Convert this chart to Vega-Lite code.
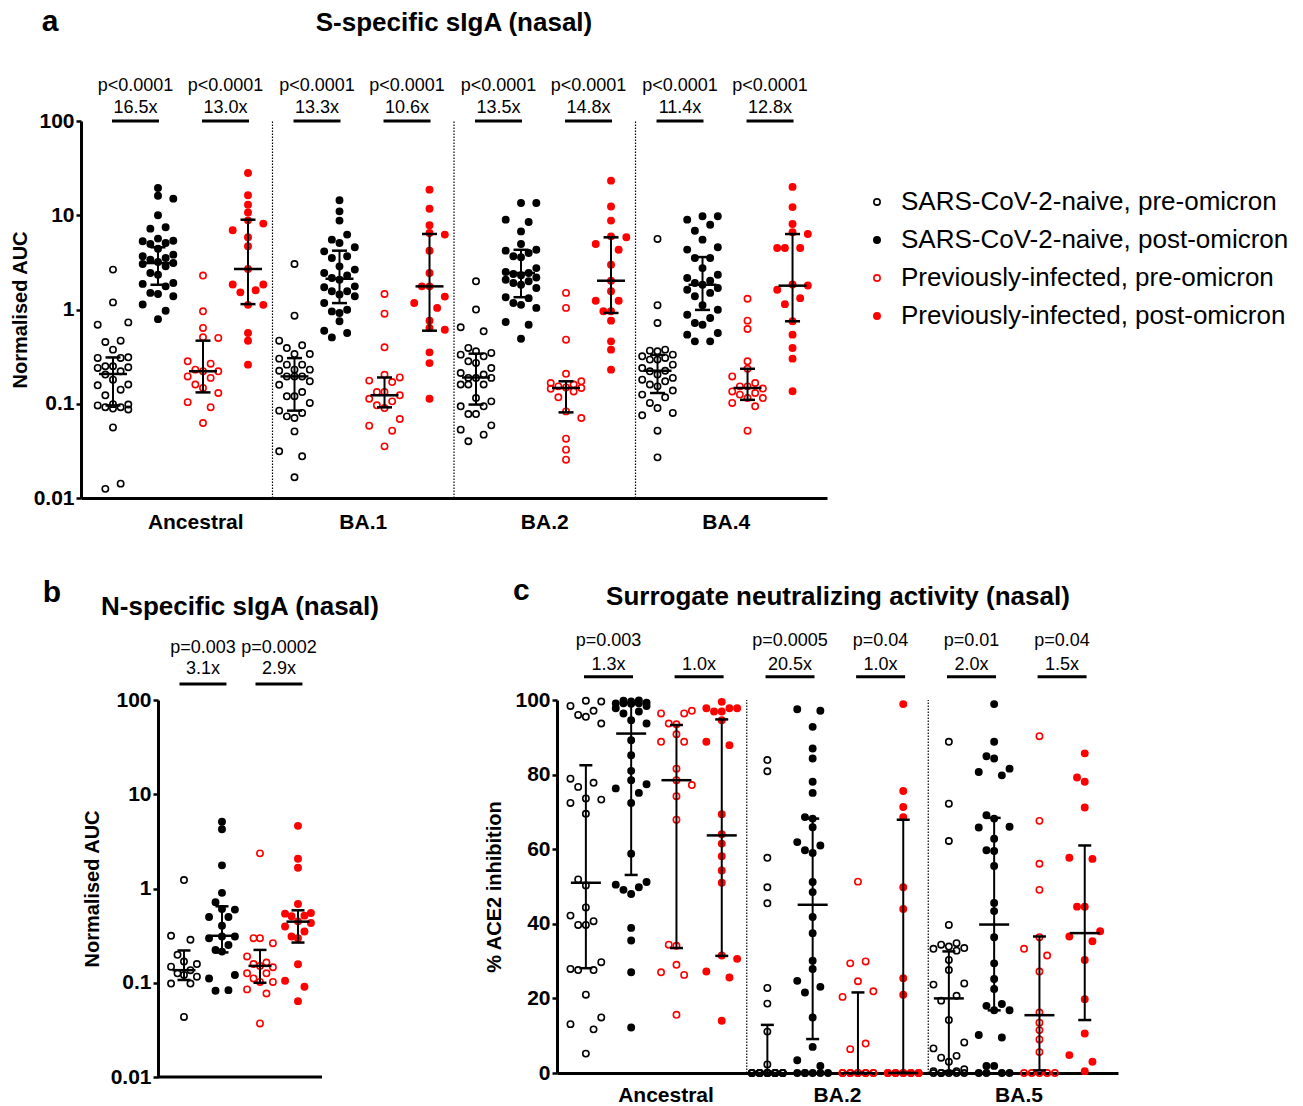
{
"$schema": "https://vega.github.io/schema/vega-lite/v6.json",
"padding": {"left": 10, "top": 6, "right": 0, "bottom": 0},
"config": {
  "font": "Liberation Sans",
  "view": {"stroke": null},
  "axis": {"grid": false, "domainColor": "#000", "domainWidth": 3, "tickColor": "#000", "tickWidth": 2.5, "tickSize": 5, "labelColor": "#000", "titleColor": "#000", "labelFont": "Liberation Sans", "titleFont": "Liberation Sans", "labelFontWeight": "bold", "titleFontWeight": "bold", "labelFontSize": 21, "titleFontSize": 20},
  "text": {"font": "Liberation Sans", "color": "#000"}
},
"datasets": {
"pts": [
{"panel":"a","v":"Ancestral","s":"SARS-CoV-2-naive, pre-omicron","vals":[2.65,1.19,0.73,0.69,0.467,0.452,0.375,0.311,0.306,0.306,0.25,0.25,0.244,0.24,0.221,0.204,0.18,0.16,0.157,0.141,0.123,0.099,0.098,0.096,0.092,0.092,0.089,0.087,0.056,0.0142,0.0125]},
{"panel":"a","v":"Ancestral","s":"SARS-CoV-2-naive, post-omicron","vals":[19.5,16.1,15.0,9.98,7.45,7.21,5.65,5.37,5.29,5.08,4.96,4.42,3.82,3.67,3.52,3.38,3.19,3.11,3.04,2.87,2.44,2.34,1.91,1.87,1.76,1.5,1.46,1.38,1.13,0.97,0.79]},
{"panel":"a","v":"Ancestral","s":"Previously-infected, pre-omicron","vals":[2.29,0.957,0.637,0.507,0.499,0.282,0.266,0.23,0.221,0.221,0.195,0.188,0.16,0.147,0.13,0.104,0.092,0.0625]},
{"panel":"a","v":"Ancestral","s":"Previously-infected, post-omicron","vals":[28.1,16.3,12.9,10.7,8.83,8.15,6.92,5.83,4.68,2.69,1.84,1.84,1.6,1.52,1.12,1.12,0.564,0.467,0.26]},
{"panel":"a","v":"BA.1","s":"SARS-CoV-2-naive, pre-omicron","vals":[3.04,0.86,0.467,0.417,0.39,0.337,0.337,0.301,0.26,0.26,0.23,0.23,0.224,0.195,0.195,0.195,0.173,0.159,0.133,0.12,0.12,0.102,0.0845,0.0798,0.0735,0.0706,0.0509,0.0313,0.0277,0.0166]},
{"panel":"a","v":"BA.1","s":"SARS-CoV-2-naive, post-omicron","vals":[14.4,11.0,8.77,6.23,5.51,5.08,4.57,4.14,3.67,3.52,2.87,2.65,2.44,2.3,2.16,2.07,1.76,1.72,1.56,1.56,1.44,1.38,1.17,0.995,0.955,0.918,0.749,0.596,0.563,0.506]},
{"panel":"a","v":"BA.1","s":"Previously-infected, pre-omicron","vals":[1.46,0.903,0.397,0.203,0.19,0.176,0.17,0.133,0.133,0.123,0.113,0.106,0.0962,0.0901,0.0689,0.0585,0.0518,0.0353]},
{"panel":"a","v":"BA.1","s":"Previously-infected, post-omicron","vals":[18.7,11.7,7.82,6.49,6.23,4.21,2.44,1.76,1.76,1.37,1.17,1.04,0.76,0.636,0.611,0.351,0.27,0.113]},
{"panel":"a","v":"BA.2","s":"SARS-CoV-2-naive, pre-omicron","vals":[1.99,0.998,0.648,0.587,0.391,0.36,0.346,0.332,0.319,0.282,0.271,0.239,0.212,0.204,0.188,0.188,0.188,0.16,0.16,0.16,0.115,0.106,0.094,0.094,0.0778,0.0778,0.059,0.0531,0.047,0.04]},
{"panel":"a","v":"BA.2","s":"SARS-CoV-2-naive, post-omicron","vals":[13.5,13.5,8.98,8.48,6.74,4.95,4.31,4.21,3.98,3.67,3.58,2.75,2.5,2.44,2.38,2.31,2.19,2.07,1.99,1.91,1.83,1.69,1.35,1.32,1.17,1.12,1.04,0.737,0.69,0.49]},
{"panel":"a","v":"BA.2","s":"Previously-infected, pre-omicron","vals":[1.5,1.04,0.478,0.208,0.173,0.166,0.16,0.153,0.149,0.147,0.144,0.135,0.117,0.083,0.0706,0.0426,0.0326,0.0255]},
{"panel":"a","v":"BA.2","s":"Previously-infected, post-omicron","vals":[23.3,12.4,8.77,5.97,5.83,4.95,4.31,2.99,2.02,1.56,1.24,1.24,0.957,0.957,0.762,0.459,0.375,0.23]},
{"panel":"a","v":"BA.4","s":"SARS-CoV-2-naive, pre-omicron","vals":[5.6,1.11,0.719,0.375,0.366,0.36,0.332,0.319,0.306,0.294,0.294,0.26,0.239,0.224,0.221,0.204,0.188,0.18,0.173,0.16,0.153,0.138,0.125,0.117,0.102,0.09,0.0798,0.0754,0.0518,0.027]},
{"panel":"a","v":"BA.4","s":"SARS-CoV-2-naive, post-omicron","vals":[9.75,9.75,8.98,7.94,6.86,5.51,4.57,4.32,3.52,3.52,2.75,2.34,2.16,2.02,1.91,1.83,1.69,1.62,1.5,1.38,1.11,0.995,0.88,0.812,0.719,0.69,0.563,0.541,0.459,0.459]},
{"panel":"a","v":"BA.4","s":"Previously-infected, pre-omicron","vals":[1.3,0.762,0.621,0.282,0.235,0.195,0.166,0.153,0.153,0.145,0.135,0.13,0.125,0.115,0.115,0.102,0.094,0.0518]},
{"panel":"a","v":"BA.4","s":"Previously-infected, post-omicron","vals":[20.0,12.2,8.08,6.59,6.33,4.49,4.49,4.49,1.84,1.8,1.62,1.32,1.14,0.75,0.541,0.39,0.301,0.136]},
{"panel":"b","v":"N","s":"SARS-CoV-2-naive, pre-omicron","vals":[1.23,0.315,0.286,0.198,0.168,0.158,0.148,0.136,0.126,0.121,0.116,0.098,0.098,0.0434]},
{"panel":"b","v":"N","s":"SARS-CoV-2-naive, post-omicron","vals":[5.11,4.26,1.76,0.899,0.715,0.607,0.597,0.498,0.498,0.403,0.31,0.31,0.297,0.252,0.223,0.214,0.121,0.111,0.0835,0.0822]},
{"panel":"b","v":"N","s":"Previously-infected, pre-omicron","vals":[2.36,0.297,0.297,0.263,0.19,0.164,0.158,0.151,0.146,0.126,0.126,0.111,0.102,0.102,0.085,0.0769,0.037]},
{"panel":"b","v":"N","s":"Previously-infected, post-omicron","vals":[4.62,2.07,1.66,0.686,0.549,0.541,0.515,0.507,0.448,0.43,0.396,0.35,0.31,0.297,0.157,0.105,0.0906,0.0638]},
{"panel":"c","v":"Ancestral","s":"SARS-CoV-2-naive, pre-omicron","vals":[99.8,99.6,98.4,97.1,96.0,95.5,93.7,78.9,77.8,76.7,73.6,73.3,72.4,69.5,51.9,50.3,44.4,42.2,40.7,39.7,39.7,29.7,27.9,27.6,27.6,21.0,14.9,13.1,11.7,5.2]},
{"panel":"c","v":"Ancestral","s":"SARS-CoV-2-naive, post-omicron","vals":[99.8,99.6,99.9,99.0,99.3,99.1,99.1,99.1,98.4,97.8,96.9,96.4,94.6,93.7,89.2,85.2,81.0,78.5,77.4,76.3,75.1,72.4,58.8,51.2,50.5,49.8,49.1,48.0,38.9,35.5,27.0,12.2]},
{"panel":"c","v":"Ancestral","s":"Previously-infected, pre-omicron","vals":[97.1,96.4,96.4,93.7,93.5,90.8,88.8,88.8,81.6,78.5,77.2,74.2,67.9,34.4,34.1,29.0,27.0,26.3,15.6]},
{"panel":"c","v":"Ancestral","s":"Previously-infected, post-omicron","vals":[99.5,97.8,97.8,97.8,96.9,96.9,94.6,88.8,87.9,69.4,64.0,61.5,58.1,54.3,51.0,31.5,30.6,27.2,25.6,14.0]},
{"panel":"c","v":"BA.2","s":"SARS-CoV-2-naive, pre-omicron","vals":[83.9,80.9,57.7,49.8,45.5,22.8,18.6,11.1,2.3,0,0,0,0,0,0,0,0,0,0,0,0,0,0,0,0,0,0,0,0,0,0]},
{"panel":"c","v":"BA.2","s":"SARS-CoV-2-naive, post-omicron","vals":[97.5,97.1,92.8,87.0,84.3,78.1,75.1,68.6,68.2,65.9,61.9,61.0,59.7,59.0,51.2,48.5,41.8,37.5,30.1,27.9,24.7,23.1,21.6,14.9,7.0,3.4,1.9,0,0,0,0,0,0]},
{"panel":"c","v":"BA.2","s":"Previously-infected, pre-omicron","vals":[51.3,29.9,29.4,24.6,21.9,20.4,7.9,6.4,0,0,0,0,0,0,0,0,0,0]},
{"panel":"c","v":"BA.2","s":"Previously-infected, post-omicron","vals":[98.9,75.6,71.3,68.6,49.8,44.0,25.4,21.0,0,0,0,0,0,0,0,0,0,0]},
{"panel":"c","v":"BA.5","s":"SARS-CoV-2-naive, pre-omicron","vals":[88.8,72.2,62.2,39.7,34.8,34.4,33.9,33.5,33.3,32.8,30.3,27.6,24.0,23.7,20.7,19.4,14.2,8.2,6.6,4.6,4.1,3.0,1.0,0.5,0.5,0,0,0,0,0,0]},
{"panel":"c","v":"BA.5","s":"SARS-CoV-2-naive, post-omicron","vals":[98.9,88.8,84.9,84.3,81.6,80.7,79.8,69.1,68.2,66.0,65.8,62.8,59.7,59.5,55.5,45.6,43.4,36.4,29.4,25.2,22.5,18.5,18.0,16.8,16.8,10.2,9.5,1.9,1.9,0,0,0,0]},
{"panel":"c","v":"BA.5","s":"Previously-infected, pre-omicron","vals":[90.3,67.6,56.1,49.1,36.4,33.3,31.5,27.2,16.2,13.5,11.5,9.0,5.6,0,0,0,0,0]},
{"panel":"c","v":"BA.5","s":"Previously-infected, post-omicron","vals":[85.7,79.2,78.1,71.2,57.7,57.4,44.6,44.6,38.0,36.6,35.3,30.3,19.8,10.6,4.8,3.0,0.5]}
],
"sum": [
{"panel":"a","v":"Ancestral","k":0,"med":0.207,"lo":0.096,"hi":0.31},
{"panel":"a","v":"Ancestral","k":1,"med":3.11,"lo":1.83,"hi":4.57},
{"panel":"a","v":"Ancestral","k":2,"med":0.221,"lo":0.132,"hi":0.467},
{"panel":"a","v":"Ancestral","k":3,"med":2.69,"lo":1.14,"hi":8.97},
{"panel":"a","v":"BA.1","k":0,"med":0.195,"lo":0.0845,"hi":0.305},
{"panel":"a","v":"BA.1","k":1,"med":2.12,"lo":1.17,"hi":4.21},
{"panel":"a","v":"BA.1","k":2,"med":0.123,"lo":0.0916,"hi":0.19},
{"panel":"a","v":"BA.1","k":3,"med":1.76,"lo":0.596,"hi":6.33},
{"panel":"a","v":"BA.2","k":0,"med":0.19,"lo":0.098,"hi":0.34},
{"panel":"a","v":"BA.2","k":1,"med":2.44,"lo":1.35,"hi":4.3},
{"panel":"a","v":"BA.2","k":2,"med":0.147,"lo":0.081,"hi":0.173},
{"panel":"a","v":"BA.2","k":3,"med":2.02,"lo":0.919,"hi":5.83},
{"panel":"a","v":"BA.4","k":0,"med":0.224,"lo":0.13,"hi":0.33},
{"panel":"a","v":"BA.4","k":1,"med":1.83,"lo":0.99,"hi":3.6},
{"panel":"a","v":"BA.4","k":2,"med":0.147,"lo":0.11,"hi":0.235},
{"panel":"a","v":"BA.4","k":3,"med":1.79,"lo":0.75,"hi":6.32},
{"panel":"b","v":"N","k":0,"med":0.136,"lo":0.107,"hi":0.22},
{"panel":"b","v":"N","k":1,"med":0.315,"lo":0.21,"hi":0.647},
{"panel":"b","v":"N","k":2,"med":0.151,"lo":0.1,"hi":0.223},
{"panel":"b","v":"N","k":3,"med":0.445,"lo":0.267,"hi":0.587},
{"panel":"c","v":"Ancestral","k":0,"med":51.0,"lo":28.1,"hi":82.5},
{"panel":"c","v":"Ancestral","k":1,"med":91.0,"lo":53.1,"hi":99.2},
{"panel":"c","v":"Ancestral","k":2,"med":78.5,"lo":33.5,"hi":93.3},
{"panel":"c","v":"Ancestral","k":3,"med":63.7,"lo":31.4,"hi":94.8},
{"panel":"c","v":"BA.2","k":0,"med":0,"lo":0,"hi":12.9},
{"panel":"c","v":"BA.2","k":1,"med":45.1,"lo":9.1,"hi":68.2},
{"panel":"c","v":"BA.2","k":2,"med":0,"lo":0,"hi":21.6},
{"panel":"c","v":"BA.2","k":3,"med":0,"lo":0,"hi":67.9},
{"panel":"c","v":"BA.5","k":0,"med":20.0,"lo":0.5,"hi":32.6},
{"panel":"c","v":"BA.5","k":1,"med":39.8,"lo":16.8,"hi":68.4},
{"panel":"c","v":"BA.5","k":2,"med":15.5,"lo":0.7,"hi":36.6},
{"panel":"c","v":"BA.5","k":3,"med":37.5,"lo":14.2,"hi":61.0}
],
"ann": [
{"panel":"a","v":"Ancestral","pair":0,"p":"p<0.0001","f":"16.5x"},
{"panel":"a","v":"Ancestral","pair":1,"p":"p<0.0001","f":"13.0x"},
{"panel":"a","v":"BA.1","pair":0,"p":"p<0.0001","f":"13.3x"},
{"panel":"a","v":"BA.1","pair":1,"p":"p<0.0001","f":"10.6x"},
{"panel":"a","v":"BA.2","pair":0,"p":"p<0.0001","f":"13.5x"},
{"panel":"a","v":"BA.2","pair":1,"p":"p<0.0001","f":"14.8x"},
{"panel":"a","v":"BA.4","pair":0,"p":"p<0.0001","f":"11.4x"},
{"panel":"a","v":"BA.4","pair":1,"p":"p<0.0001","f":"12.8x"},
{"panel":"b","v":"N","pair":0,"p":"p=0.003","f":"3.1x"},
{"panel":"b","v":"N","pair":1,"p":"p=0.0002","f":"2.9x"},
{"panel":"c","v":"Ancestral","pair":0,"p":"p=0.003","f":"1.3x"},
{"panel":"c","v":"Ancestral","pair":1,"p":"","f":"1.0x"},
{"panel":"c","v":"BA.2","pair":0,"p":"p=0.0005","f":"20.5x"},
{"panel":"c","v":"BA.2","pair":1,"p":"p=0.04","f":"1.0x"},
{"panel":"c","v":"BA.5","pair":0,"p":"p=0.01","f":"2.0x"},
{"panel":"c","v":"BA.5","pair":1,"p":"p=0.04","f":"1.5x"}
]
},
"align": "none",
"spacing": 44,
"resolve": {"scale": {"xOffset": "independent"}, "legend": {"stroke": "independent", "fill": "independent"}},
"vconcat": [
{
 "width": 746, "height": 377,
 "layer": [
  {"data": {"name":"pts"},
   "transform": [
    {"filter": "datum.panel === 'a'"},
    {"flatten": ["vals"], "as": ["y"]},
    {"calculate": "log(datum.y) / LN10 * 94.25", "as": "py"},
    {"window": [{"op":"row_number","as":"rn"},{"op":"lag","field":"py","as":"pp"},{"op":"lead","field":"py","as":"pn"}], "groupby": ["v","s"], "sort": [{"field":"y","order":"ascending"}]},
    {"calculate": "((isValid(datum.pp) && datum.py - datum.pp < 7) || (isValid(datum.pn) && datum.pn - datum.py < 7)) ? [0,-1,1,-2,2][datum.rn % 5] * 0.17 : 0", "as": "j"},
    {"calculate": "indexof(['SARS-CoV-2-naive, pre-omicron','SARS-CoV-2-naive, post-omicron','Previously-infected, pre-omicron','Previously-infected, post-omicron'], datum.s) + datum.j", "as": "xo"}
   ],
   "mark": {"type":"point","shape":"circle","size":40,"strokeWidth":1.6,"opacity":1},
   "encoding": {
    "x": {"field":"v","type":"nominal","title":null,"scale":{"domain":["Ancestral","BA.1","BA.2","BA.4"],"paddingInner":0,"paddingOuter":0.055},
          "axis":{"ticks":false,"labelPadding":13,"labelAngle":0,"labelOffset":{"condition":{"test":"datum.value === 'Ancestral'","value":14},"value":0}}},
    "xOffset": {"field":"xo","type":"quantitative","scale":{"domain":[-0.489,3.544],"nice":false,"zero":false}},
    "y": {"field":"y","type":"quantitative","title":"Normalised AUC","scale":{"type":"log","domain":[0.01,100],"nice":false},
          "axis":{"values":[0.01,0.1,1,10,100],"format":"~g","labelPadding":2,"titlePadding":3}},
    "stroke": {"field":"s","type":"nominal","scale":{"domain":["SARS-CoV-2-naive, pre-omicron","SARS-CoV-2-naive, post-omicron","Previously-infected, pre-omicron","Previously-infected, post-omicron"],"range":["#000000","#000000","#ff0000","#ff0000"]},
               "legend":{"title":null,"orient":"none","legendX":783,"legendY":68,"labelFontSize":26,"labelFont":"Liberation Sans","labelColor":"#000","labelLimit":800,"symbolType":"circle","symbolSize":40,"symbolStrokeWidth":1.6,"rowPadding":12,"labelOffset":11,"padding":0,"symbolOpacity":1}},
    "fill": {"field":"s","type":"nominal","scale":{"domain":["SARS-CoV-2-naive, pre-omicron","SARS-CoV-2-naive, post-omicron","Previously-infected, pre-omicron","Previously-infected, post-omicron"],"range":["transparent","#000000","transparent","#ff0000"]},
               "legend":{"title":null,"orient":"none","legendX":783,"legendY":68,"labelFontSize":26,"labelFont":"Liberation Sans","labelColor":"#000","labelLimit":800,"symbolType":"circle","symbolSize":40,"symbolStrokeWidth":1.6,"rowPadding":12,"labelOffset":11,"padding":0,"symbolOpacity":1}}
   }},
  {"data": {"values": [{"v":"Ancestral"},{"v":"BA.1"},{"v":"BA.2"}]},
   "mark": {"type":"rule","strokeDash":[1.5,1.5],"strokeWidth":1.2,"color":"#000"},
   "encoding": {"x": {"field":"v","type":"nominal","title":null}, "xOffset": {"datum": 3.544}, "y": {"datum": 0.01}, "y2": {"datum": 100}}},
  {"data": {"name":"sum"}, "transform": [{"filter":"datum.panel === 'a'"},{"calculate":"datum.k","as":"xo"}],
   "mark": {"type":"rule","color":"#000","strokeWidth":2},
   "encoding": {"x": {"field":"v","type":"nominal","title":null}, "xOffset": {"field":"xo","type":"quantitative"}, "y": {"field":"lo","type":"quantitative","title":"Normalised AUC"}, "y2": {"field":"hi"}}},
  {"data": {"name":"sum"}, "transform": [{"filter":"datum.panel === 'a'"},{"calculate":"datum.k","as":"xo"},{"fold":["lo","hi"],"as":["which","cap"]}],
   "mark": {"type":"point","shape":"M-1,0L1,0","size":225,"stroke":"#000","strokeWidth":2.5,"opacity":1,"filled":false},
   "encoding": {"x": {"field":"v","type":"nominal","title":null}, "xOffset": {"field":"xo","type":"quantitative"}, "y": {"field":"cap","type":"quantitative","title":"Normalised AUC"}}},
  {"data": {"name":"sum"}, "transform": [{"filter":"datum.panel === 'a'"},{"calculate":"datum.k","as":"xo"}],
   "mark": {"type":"point","shape":"M-1,0L1,0","size":784,"stroke":"#000","strokeWidth":2.5,"opacity":1,"filled":false},
   "encoding": {"x": {"field":"v","type":"nominal","title":null}, "xOffset": {"field":"xo","type":"quantitative"}, "y": {"field":"med","type":"quantitative","title":"Normalised AUC"}}},
  {"data": {"name":"ann"}, "transform": [{"filter":"datum.panel === 'a'"},{"calculate":"datum.pair * 2 + 0.5","as":"xo"}],
   "mark": {"type":"point","shape":"M-1,0L1,0","size":2209,"stroke":"#000","strokeWidth":3,"opacity":1,"filled":false},
   "encoding": {"x": {"field":"v","type":"nominal","title":null}, "xOffset": {"field":"xo","type":"quantitative"}, "y": {"datum": 100}}},
  {"data": {"name":"ann"}, "transform": [{"filter":"datum.panel === 'a'"},{"calculate":"datum.pair * 2 + 0.5","as":"xo"}],
   "mark": {"type":"text","fontSize":18,"baseline":"alphabetic","dy":-8},
   "encoding": {"x": {"field":"v","type":"nominal","title":null}, "xOffset": {"field":"xo","type":"quantitative"}, "y": {"datum": 100}, "text": {"field":"f","type":"nominal"}}},
  {"data": {"name":"ann"}, "transform": [{"filter":"datum.panel === 'a'"},{"calculate":"datum.pair * 2 + 0.5","as":"xo"}],
   "mark": {"type":"text","fontSize":18,"baseline":"alphabetic","dy":-30},
   "encoding": {"x": {"field":"v","type":"nominal","title":null}, "xOffset": {"field":"xo","type":"quantitative"}, "y": {"datum": 100}, "text": {"field":"p","type":"nominal"}}},
  {"data": {"values":[{}]},
   "mark": {"type":"text","text":"a","fontSize":30,"fontWeight":"bold","baseline":"alphabetic"},
   "encoding": {"x": {"datum":"Ancestral"}, "xOffset": {"datum": -1.40}, "y": {"datum": 902}}},
  {"data": {"values":[{}]},
   "mark": {"type":"text","text":"S-specific sIgA (nasal)","fontSize":26,"fontWeight":"bold","baseline":"alphabetic"},
   "encoding": {"x": {"datum":"BA.2"}, "xOffset": {"datum": -0.489}, "y": {"datum": 902}}}
 ]
},
{
 "spacing": 104,
 "resolve": {"scale": {"xOffset": "independent"}, "legend": {"stroke": "independent", "fill": "independent"}},
 "hconcat": [
 {
  "width": 241, "height": 377,
  "layer": [
   {"data": {"name":"pts"},
    "transform": [
     {"filter": "datum.panel === 'b'"},
     {"flatten": ["vals"], "as": ["y"]},
     {"calculate": "log(datum.y) / LN10 * 94.25", "as": "py"},
     {"window": [{"op":"row_number","as":"rn"},{"op":"lag","field":"py","as":"pp"},{"op":"lead","field":"py","as":"pn"}], "groupby": ["v","s"], "sort": [{"field":"y","order":"ascending"}]},
     {"calculate": "((isValid(datum.pp) && datum.py - datum.pp < 7) || (isValid(datum.pn) && datum.pn - datum.py < 7)) ? [0,-1,1,-2,2][datum.rn % 5] * 0.17 : 0", "as": "j"},
     {"calculate": "indexof(['SARS-CoV-2-naive, pre-omicron','SARS-CoV-2-naive, post-omicron','Previously-infected, pre-omicron','Previously-infected, post-omicron'], datum.s) + datum.j", "as": "xo"}
    ],
    "mark": {"type":"point","shape":"circle","size":40,"strokeWidth":1.6,"opacity":1},
    "encoding": {
     "x": {"field":"xo","type":"quantitative","title":null,"scale":{"domain":[-2.71,3.632],"nice":false,"zero":false},"axis":null},
     "y": {"field":"y","type":"quantitative","title":"Normalised AUC","scale":{"type":"log","domain":[0.01,100],"nice":false},
           "axis":{"values":[0.01,0.1,1,10,100],"format":"~g","labelPadding":2,"titlePadding":8,"offset":-77}},
     "stroke": {"field":"s","type":"nominal","scale":{"domain":["SARS-CoV-2-naive, pre-omicron","SARS-CoV-2-naive, post-omicron","Previously-infected, pre-omicron","Previously-infected, post-omicron"],"range":["#000000","#000000","#ff0000","#ff0000"]},"legend":null},
     "fill": {"field":"s","type":"nominal","scale":{"domain":["SARS-CoV-2-naive, pre-omicron","SARS-CoV-2-naive, post-omicron","Previously-infected, pre-omicron","Previously-infected, post-omicron"],"range":["transparent","#000000","transparent","#ff0000"]},"legend":null}
    }},
   {"data": {"values":[{}]},
    "mark": {"type":"rule","strokeWidth":3,"color":"#000"},
    "encoding": {"x": {"datum": -0.684}, "x2": {"datum": 3.632}, "y": {"datum": 0.01}}},
   {"data": {"name":"sum"}, "transform": [{"filter":"datum.panel === 'b'"},{"calculate":"datum.k","as":"xo"}],
    "mark": {"type":"rule","color":"#000","strokeWidth":2},
    "encoding": {"x": {"field":"xo","type":"quantitative","title":null}, "y": {"field":"lo","type":"quantitative","title":"Normalised AUC"}, "y2": {"field":"hi"}}},
   {"data": {"name":"sum"}, "transform": [{"filter":"datum.panel === 'b'"},{"calculate":"datum.k","as":"xo"},{"fold":["lo","hi"],"as":["which","cap"]}],
    "mark": {"type":"point","shape":"M-1,0L1,0","size":169,"stroke":"#000","strokeWidth":2.5,"opacity":1,"filled":false},
    "encoding": {"x": {"field":"xo","type":"quantitative","title":null}, "y": {"field":"cap","type":"quantitative","title":"Normalised AUC"}}},
   {"data": {"name":"sum"}, "transform": [{"filter":"datum.panel === 'b'"},{"calculate":"datum.k","as":"xo"}],
    "mark": {"type":"point","shape":"M-1,0L1,0","size":529,"stroke":"#000","strokeWidth":2.5,"opacity":1,"filled":false},
    "encoding": {"x": {"field":"xo","type":"quantitative","title":null}, "y": {"field":"med","type":"quantitative","title":"Normalised AUC"}}},
   {"data": {"name":"ann"}, "transform": [{"filter":"datum.panel === 'b'"},{"calculate":"datum.pair * 2 + 0.5","as":"xo"}],
    "mark": {"type":"point","shape":"M-1,0L1,0","size":2209,"stroke":"#000","strokeWidth":3,"opacity":1,"filled":false},
    "encoding": {"x": {"field":"xo","type":"quantitative","title":null}, "y": {"datum": 147.8}}},
   {"data": {"name":"ann"}, "transform": [{"filter":"datum.panel === 'b'"},{"calculate":"datum.pair * 2 + 0.5","as":"xo"}],
    "mark": {"type":"text","fontSize":18,"baseline":"alphabetic","dy":-10},
    "encoding": {"x": {"field":"xo","type":"quantitative","title":null}, "y": {"datum": 147.8}, "text": {"field":"f","type":"nominal"}}},
   {"data": {"name":"ann"}, "transform": [{"filter":"datum.panel === 'b'"},{"calculate":"datum.pair * 2 + 0.5","as":"xo"}],
    "mark": {"type":"text","fontSize":18,"baseline":"alphabetic","dy":-31},
    "encoding": {"x": {"field":"xo","type":"quantitative","title":null}, "y": {"datum": 147.8}, "text": {"field":"p","type":"nominal"}}},
   {"data": {"values":[{}]},
    "mark": {"type":"text","text":"b","fontSize":30,"fontWeight":"bold","baseline":"alphabetic"},
    "encoding": {"x": {"datum": -3.473}, "y": {"datum": 1098}}},
   {"data": {"values":[{}]},
    "mark": {"type":"text","text":"N-specific sIgA (nasal)","fontSize":26,"fontWeight":"bold","baseline":"alphabetic"},
    "encoding": {"x": {"datum": 1.474}, "y": {"datum": 797}}}
  ]
 },
 {
  "width": 561, "height": 373,
  "layer": [
   {"data": {"name":"pts"},
    "transform": [
     {"filter": "datum.panel === 'c'"},
     {"flatten": ["vals"], "as": ["y"]},
     {"calculate": "datum.y * 3.73", "as": "py"},
     {"window": [{"op":"row_number","as":"rn"},{"op":"lag","field":"py","as":"pp"},{"op":"lead","field":"py","as":"pn"}], "groupby": ["v","s"], "sort": [{"field":"y","order":"ascending"}]},
     {"calculate": "((isValid(datum.pp) && datum.py - datum.pp < 7) || (isValid(datum.pn) && datum.pn - datum.py < 7)) ? [0,-1,1,-2,2][datum.rn % 5] * 0.17 : 0", "as": "j"},
     {"calculate": "indexof(['SARS-CoV-2-naive, pre-omicron','SARS-CoV-2-naive, post-omicron','Previously-infected, pre-omicron','Previously-infected, post-omicron'], datum.s) + datum.j", "as": "xo"}
    ],
    "mark": {"type":"point","shape":"circle","size":40,"strokeWidth":1.6,"opacity":1},
    "encoding": {
     "x": {"field":"v","type":"nominal","title":null,"scale":{"domain":["Ancestral","BA.2","BA.5"],"paddingInner":0,"paddingOuter":0.0455},
           "axis":{"ticks":false,"labelPadding":11,"labelAngle":0,"labelOffset":{"condition":{"test":"datum.value === 'Ancestral'","value":10},"value":0}}},
     "xOffset": {"field":"xo","type":"quantitative","scale":{"domain":[-0.455,3.552],"nice":false,"zero":false}},
     "y": {"field":"y","type":"quantitative","title":"% ACE2 inhibition","scale":{"domain":[0,100],"nice":false},
           "axis":{"values":[0,20,40,60,80,100],"labelPadding":2,"titlePadding":10}},
     "stroke": {"field":"s","type":"nominal","scale":{"domain":["SARS-CoV-2-naive, pre-omicron","SARS-CoV-2-naive, post-omicron","Previously-infected, pre-omicron","Previously-infected, post-omicron"],"range":["#000000","#000000","#ff0000","#ff0000"]},"legend":null},
     "fill": {"field":"s","type":"nominal","scale":{"domain":["SARS-CoV-2-naive, pre-omicron","SARS-CoV-2-naive, post-omicron","Previously-infected, pre-omicron","Previously-infected, post-omicron"],"range":["transparent","#000000","transparent","#ff0000"]},"legend":null}
    }},
   {"data": {"values": [{"v":"Ancestral"},{"v":"BA.2"}]},
    "mark": {"type":"rule","strokeDash":[1.5,1.5],"strokeWidth":1.2,"color":"#000"},
    "encoding": {"x": {"field":"v","type":"nominal","title":null}, "xOffset": {"datum": 3.552}, "y": {"datum": 0}, "y2": {"datum": 100}}},
   {"data": {"name":"sum"}, "transform": [{"filter":"datum.panel === 'c'"},{"calculate":"datum.k","as":"xo"}],
    "mark": {"type":"rule","color":"#000","strokeWidth":2},
    "encoding": {"x": {"field":"v","type":"nominal","title":null}, "xOffset": {"field":"xo","type":"quantitative"}, "y": {"field":"lo","type":"quantitative","title":"% ACE2 inhibition"}, "y2": {"field":"hi"}}},
   {"data": {"name":"sum"}, "transform": [{"filter":"datum.panel === 'c'"},{"calculate":"datum.k","as":"xo"},{"fold":["lo","hi"],"as":["which","cap"]}],
    "mark": {"type":"point","shape":"M-1,0L1,0","size":169,"stroke":"#000","strokeWidth":2.5,"opacity":1,"filled":false},
    "encoding": {"x": {"field":"v","type":"nominal","title":null}, "xOffset": {"field":"xo","type":"quantitative"}, "y": {"field":"cap","type":"quantitative","title":"% ACE2 inhibition"}}},
   {"data": {"name":"sum"}, "transform": [{"filter":"datum.panel === 'c'"},{"calculate":"datum.k","as":"xo"}],
    "mark": {"type":"point","shape":"M-1,0L1,0","size":900,"stroke":"#000","strokeWidth":2.5,"opacity":1,"filled":false},
    "encoding": {"x": {"field":"v","type":"nominal","title":null}, "xOffset": {"field":"xo","type":"quantitative"}, "y": {"field":"med","type":"quantitative","title":"% ACE2 inhibition"}}},
   {"data": {"name":"ann"}, "transform": [{"filter":"datum.panel === 'c'"},{"calculate":"datum.pair * 2 + 0.5","as":"xo"}],
    "mark": {"type":"point","shape":"M-1,0L1,0","size":2401,"stroke":"#000","strokeWidth":3,"opacity":1,"filled":false},
    "encoding": {"x": {"field":"v","type":"nominal","title":null}, "xOffset": {"field":"xo","type":"quantitative"}, "y": {"datum": 106.2}}},
   {"data": {"name":"ann"}, "transform": [{"filter":"datum.panel === 'c'"},{"calculate":"datum.pair * 2 + 0.5","as":"xo"}],
    "mark": {"type":"text","fontSize":18,"baseline":"alphabetic","dy":-7},
    "encoding": {"x": {"field":"v","type":"nominal","title":null}, "xOffset": {"field":"xo","type":"quantitative"}, "y": {"datum": 106.2}, "text": {"field":"f","type":"nominal"}}},
   {"data": {"name":"ann"}, "transform": [{"filter":"datum.panel === 'c'"},{"calculate":"datum.pair * 2 + 0.5","as":"xo"}],
    "mark": {"type":"text","fontSize":18,"baseline":"alphabetic","dy":-31},
    "encoding": {"x": {"field":"v","type":"nominal","title":null}, "xOffset": {"field":"xo","type":"quantitative"}, "y": {"datum": 106.2}, "text": {"field":"p","type":"nominal"}}},
   {"data": {"values":[{}]},
    "mark": {"type":"text","text":"c","fontSize":30,"fontWeight":"bold","baseline":"alphabetic"},
    "encoding": {"x": {"datum":"Ancestral"}, "xOffset": {"datum": -1.422}, "y": {"datum": 126.8}}},
   {"data": {"values":[{}]},
    "mark": {"type":"text","text":"Surrogate neutralizing activity (nasal)","fontSize":26,"fontWeight":"bold","baseline":"alphabetic"},
    "encoding": {"x": {"datum":"BA.2"}, "xOffset": {"datum": 1.558}, "y": {"datum": 125.5}}}
  ]
 }
 ]
}
]
}
